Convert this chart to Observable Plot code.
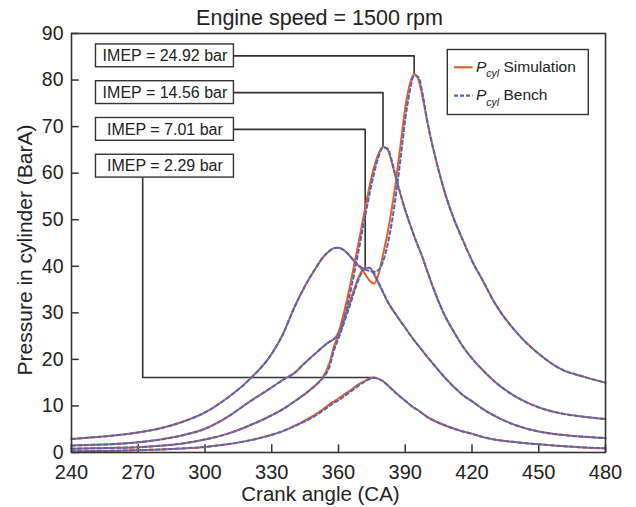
<!DOCTYPE html>
<html><head><meta charset="utf-8">
<script src="https://cdn.jsdelivr.net/npm/d3@7"></script>
<script src="https://cdn.jsdelivr.net/npm/@observablehq/plot@0.6"></script>
<style>
html,body{margin:0;padding:0;background:#fff;}
#chart{width:636px;height:507px;}
</style></head><body><div id="chart"></div>
<script>
// Crank angle grid (degrees CA)
const crankAngle = [240,250,260,270,280,290,300,310,320,330,335,340,345,350,353,356,358,360,362,364,366,368,370,372,374,376,378,380,382,384,386,388,390,392,394,396,398,400,404,408,412,416,420,425,430,440,450,460,470,480];

// IMEP = 24.92 bar
const simA   = [2.9,3.25,3.7,4.3,5.2,6.6,8.6,11.7,15.7,21.2,25.4,31.0,35.8,39.8,41.9,43.3,43.9,44.0,43.6,42.8,41.7,40.6,39.6,38.3,36.9,36.3,38.3,42.5,47.0,52.5,59.0,66.5,74.0,79.0,81.3,80.0,75.8,70.8,62.5,55.5,50.0,45.5,41.2,36.8,32.3,25.8,21.2,17.9,16.3,15.0];
const benchA = [2.9,3.25,3.7,4.3,5.2,6.6,8.6,11.7,15.7,21.2,25.4,31.0,35.8,39.8,41.9,43.3,43.9,44.0,43.6,42.8,41.7,40.6,39.9,39.3,39.0,38.8,39.2,41.0,44.5,49.5,56.0,63.5,71.5,77.5,81.0,80.6,76.5,71.0,62.5,55.5,50.0,45.5,41.2,36.8,32.3,25.8,21.2,17.9,16.3,15.0];
// IMEP = 14.56 bar
const simB   = [1.5,1.65,1.85,2.2,2.8,3.7,5.1,7.6,10.9,14.0,15.6,17.0,19.3,21.4,22.7,23.8,24.4,25.8,29.2,33.2,37.8,42.6,47.5,52.5,57.3,61.3,64.2,65.7,65.1,62.2,58.6,55.2,52.0,49.2,46.5,44.0,41.6,38.8,33.6,29.2,25.8,22.7,20.2,17.6,15.3,11.9,9.7,8.4,7.7,7.2];
const benchB = [1.5,1.65,1.85,2.2,2.8,3.7,5.1,7.6,10.9,14.0,15.6,17.0,19.3,21.4,22.7,23.8,24.4,25.2,27.8,31.6,36.0,40.8,45.8,50.8,55.7,60.0,63.5,65.5,65.3,62.6,58.8,55.3,52.0,49.2,46.5,44.0,41.6,38.8,33.6,29.2,25.8,22.7,20.2,17.6,15.3,11.9,9.7,8.4,7.7,7.2];
// IMEP = 7.01 bar
const simC   = [0.8,0.9,1.0,1.15,1.45,1.95,2.8,4.0,5.8,8.0,9.3,10.9,12.6,14.6,16.2,19.3,22.8,25.3,28.0,30.8,33.6,36.4,38.6,39.7,39.6,38.2,36.3,34.4,32.5,30.9,29.5,28.1,26.8,25.4,24.1,22.9,21.7,20.5,18.2,16.0,14.0,12.3,11.0,9.3,7.9,5.8,4.5,3.8,3.4,3.1];
const benchC = [0.8,0.9,1.0,1.15,1.45,1.95,2.8,4.0,5.8,8.0,9.3,10.9,12.6,14.6,16.0,18.5,22.0,24.5,27.2,30.0,32.9,35.8,38.2,39.5,39.7,38.5,36.5,34.5,32.5,30.9,29.5,28.1,26.8,25.4,24.1,22.9,21.7,20.5,18.2,16.0,14.0,12.3,11.0,9.3,7.9,5.8,4.5,3.8,3.4,3.1];
// IMEP = 2.29 bar
const simD   = [0.25,0.3,0.38,0.5,0.65,0.88,1.2,1.75,2.6,3.8,4.6,5.7,6.9,8.3,9.3,10.4,11.0,11.6,12.3,12.9,13.6,14.3,14.9,15.4,15.9,16.1,15.8,15.3,14.5,13.6,12.7,11.9,11.1,10.3,9.6,9.0,8.3,7.6,6.6,5.8,5.1,4.5,4.0,3.3,2.8,2.2,1.75,1.4,1.1,0.9];
const benchD = [0.25,0.3,0.38,0.5,0.65,0.88,1.2,1.75,2.6,3.8,4.6,5.6,6.7,8.0,9.0,10.0,10.7,11.2,11.9,12.6,13.3,14.0,14.7,15.3,15.8,16.0,15.8,15.3,14.5,13.6,12.7,11.9,11.1,10.3,9.6,9.0,8.3,7.6,6.6,5.8,5.1,4.5,4.0,3.3,2.8,2.2,1.75,1.4,1.1,0.9];

const imepLabels = ["IMEP = 24.92 bar","IMEP = 14.56 bar","IMEP = 7.01 bar","IMEP = 2.29 bar"];
const labelY = [85.2, 77.3, 69.4, 61.5];     // label box centres (bar)
const labelBoxCA = [251, 313];               // label box extent (CA)
const labelHalfH = 2.45;
const lowLeaderCA = 272;                     // vertical leader of the 2.29 bar label

const xTicks = [240,270,300,330,360,390,420,450,480];
const yTicks = [0,10,20,30,40,50,60,70,80,90];

const titleText = "Engine speed = 1500 rpm";
const xLabel = "Crank angle (CA)";
const yLabel = "Pressure in cylinder (BarA)";
const legendLabels = ["Simulation", "Bench"];

const simColor = "#f05a28", benchColor = "#4a68bd", ink = "#333";

const simSeries = [simA, simB, simC, simD];
const benchSeries = [benchA, benchB, benchC, benchD];
const rows = (series) => series.flatMap((s, k) => crankAngle.map((x, i) => ({x, y: s[i], k})));
const simRows = rows(simSeries), benchRows = rows(benchSeries);

// leader lines to each curve's peak
const peaks = simSeries.map(s => { const i = d3.maxIndex(s); return [crankAngle[i], s[i]]; });
const leaders = [];
peaks.forEach(([px, py], k) => {
  const pts = k < 3
    ? [[labelBoxCA[1], labelY[k]], [px, labelY[k]], [px, py]]
    : [[lowLeaderCA, labelY[k] - labelHalfH], [lowLeaderCA, py], [px, py]];
  pts.forEach(([x, y]) => leaders.push({x, y, k}));
});
const boxes = imepLabels.map((t, k) => ({t, x1: labelBoxCA[0], x2: labelBoxCA[1], y1: labelY[k] - labelHalfH, y2: labelY[k] + labelHalfH, xc: (labelBoxCA[0] + labelBoxCA[1]) / 2, yc: labelY[k]}));

const font = "'Liberation Sans', Arial, Helvetica, sans-serif";

const svg = Plot.plot({
  width: 636, height: 507,
  marginLeft: 71, marginRight: 31, marginTop: 33, marginBottom: 55,
  style: {fontFamily: font, fontSize: "20px", background: "white", color: "#222"},
  x: {domain: [240, 480]},
  y: {domain: [0, 90]},
  marks: [
    Plot.axisX({ticks: xTicks, tickSize: 0, tickPadding: 12, label: null, fontSize: 20}),
    Plot.axisY({ticks: yTicks, tickSize: 0, tickPadding: 8, label: null, fontSize: 19.5}),
    Plot.ruleX(xTicks, {x: d => d, y1: 0, y2: 1.65, stroke: ink, strokeWidth: 1.5}),
    Plot.ruleY(yTicks, {y: d => d, x1: 240, x2: 243.5, stroke: ink, strokeWidth: 1.5}),
    Plot.line(leaders, {x: "x", y: "y", z: "k", stroke: ink, strokeWidth: 1.6}),
    Plot.line(simRows, {x: "x", y: "y", z: "k", stroke: simColor, strokeWidth: 2, curve: "monotone-x"}),
    Plot.line(benchRows, {x: "x", y: "y", z: "k", stroke: benchColor, strokeWidth: 2, strokeDasharray: "3.5,3", curve: "monotone-x"}),
    Plot.rect(boxes, {x1: "x1", x2: "x2", y1: "y1", y2: "y2", fill: "white", stroke: ink, strokeWidth: 1.4}),
    Plot.text(boxes, {x: "xc", y: "yc", text: "t", fontSize: 16, fill: "#222"}),
    Plot.frame({stroke: ink, strokeWidth: 1.6}),
    Plot.text([titleText], {frameAnchor: "top", lineAnchor: "middle", dx: -19, dy: -15, fontSize: 21.5, fill: "#222"}),
    Plot.text([xLabel], {frameAnchor: "bottom", lineAnchor: "middle", dx: -18, dy: 41.5, fontSize: 20.5, fill: "#222"}),
    Plot.text([yLabel], {frameAnchor: "left", textAnchor: "middle", lineAnchor: "middle", dx: -46, dy: 7, rotate: -90, fontSize: 21, fill: "#222"})
  ]
});

// legend
const g = d3.select(svg).append("g").attr("font-family", font).attr("fill", "#222").attr("text-anchor", "start");
g.append("rect").attr("x", 447.3).attr("y", 49.5).attr("width", 141).attr("height", 65)
  .attr("fill", "white").attr("stroke", ink).attr("stroke-width", 1.4);
const entries = [
  {label: legendLabels[0], color: simColor, dash: null, y: 67.3},
  {label: legendLabels[1], color: benchColor, dash: "4,2", y: 95.7}
];
entries.forEach(e => {
  g.append("line").attr("x1", 454).attr("x2", 472.5).attr("y1", e.y).attr("y2", e.y)
    .attr("stroke", e.color).attr("stroke-width", 2.2).attr("stroke-dasharray", e.dash);
  const t = g.append("text").attr("x", 476).attr("y", e.y + 4.5).attr("font-size", 15.5);
  t.append("tspan").attr("font-style", "italic").text("P");
  t.append("tspan").attr("font-style", "italic").attr("font-size", 10.5).attr("dy", 5.5).text("cyl");
  t.append("tspan").attr("dy", -5.5).text(" " + e.label);
});

document.getElementById("chart").append(svg);
</script>
</body></html>
